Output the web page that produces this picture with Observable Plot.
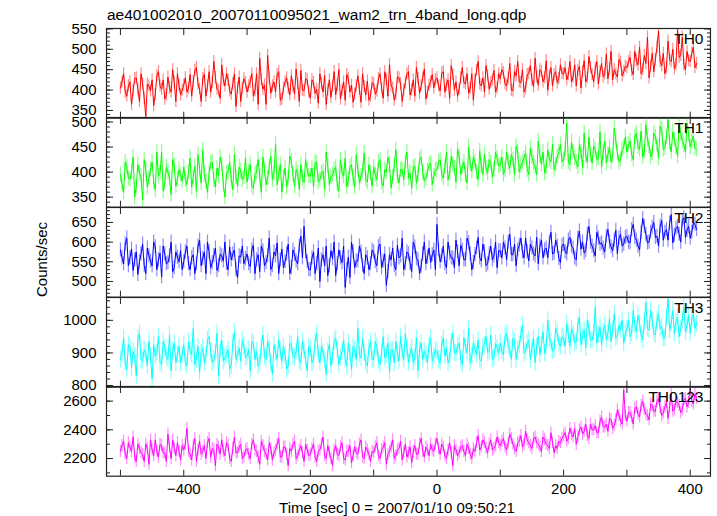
<!DOCTYPE html>
<html><head><meta charset="utf-8">
<script src="https://cdn.jsdelivr.net/npm/d3@7"></script>
<script src="https://cdn.jsdelivr.net/npm/@observablehq/plot@0.6"></script>
<style>
body{margin:0;background:#fff;font-family:"Liberation Sans",Arial,sans-serif;}
#wrap{position:relative;width:717px;height:516px;overflow:hidden;background:#fff;}
#wrap svg{position:absolute;left:0;}
.t{position:absolute;color:#000;font-size:15px;line-height:15px;white-space:nowrap;}
</style></head><body><div id="wrap"></div>
<script>
const title = "ae401002010_20070110095021_wam2_trn_4band_long.qdp";
const xLabel = "Time [sec] 0 = 2007/01/10 09:50:21";
const yLabel = "Counts/sec";
const bands = ["TH0", "TH1", "TH2", "TH3", "TH0123"];
const colors = ["#ff0000", "#00ff00", "#0000ff", "#00ffff", "#ff00ff"];
// samples "a" at t = -500, -495, ...; samples "b" at t = -497.5, -492.5, ...
const tStart = -500, tStep = 5, tOffsetB = 2.5;

const th0a = [
405,440,385,420,398,430,372,415,335,410,425,390,445,402,378,432,395,418,440,388,
412,395,438,420,455,402,428,385,445,418,430,398,462,410,425,390,440,405,372,428,
395,420,385,440,478,402,365,430,410,395,445,378,420,405,435,390,415,448,398,425,
380,418,402,440,395,365,425,410,388,450,400,375,428,412,390,435,370,408,422,385,
415,398,440,380,425,462,405,390,430,372,418,445,400,385,428,410,452,395,420,405,
430,398,445,412,380,438,420,402,455,415,392,440,425,470,410,395,435,418,448,405,
428,442,410,465,398,435,420,450,405,440,425,478,412,445,430,400,455,438,418,462,
440,425,470,432,410,458,445,420,482,438,452,415,465,440,428,495,450,432,468,445,
455,480,438,472,505,450,465,430,490,475,545,460,440,520,470,452,548,485,462,495,
470,505,465];
const th0b = [
420,395,410,365,428,402,440,380,415,398,362,435,410,425,388,405,450,372,412,400,
430,405,385,448,415,372,438,410,395,470,402,380,425,440,398,415,360,432,405,418,
410,440,398,365,425,412,485,392,420,438,375,405,430,388,410,452,372,400,428,395,
425,392,368,415,435,400,382,445,412,378,420,438,395,370,410,402,440,388,375,418,
390,428,405,445,385,410,375,432,415,400,440,388,425,455,392,430,378,412,438,425,
410,442,395,425,460,400,385,430,418,440,405,375,448,415,430,460,402,425,395,440,
450,415,430,400,445,470,418,395,438,460,408,432,450,420,472,435,410,445,428,440,
455,438,420,462,448,405,472,430,455,420,470,445,432,488,452,425,440,475,435,458,
470,448,495,462,440,485,530,458,445,505,470,490,455,475,500,462,480,530,450,472,
490,455];
const th1a = [
395,360,410,385,430,372,398,345,405,388,420,365,392,440,378,400,355,412,385,395,
410,375,428,390,362,405,445,380,398,420,370,392,415,350,400,385,435,372,402,390,
380,415,368,400,392,430,375,410,385,455,395,360,408,388,422,372,398,415,380,405,
392,370,418,385,402,440,375,395,410,362,400,428,385,415,370,405,392,438,380,398,
410,385,425,372,400,415,390,445,378,405,420,388,368,412,395,430,382,402,418,392,
405,425,388,440,398,415,380,432,410,395,450,402,420,385,412,435,398,418,405,428,
415,395,440,408,425,452,400,420,438,395,430,410,462,415,398,445,420,405,432,455,
425,498,415,440,420,455,408,432,470,418,445,428,410,462,435,420,488,438,425,450,
440,462,425,478,445,430,495,452,438,470,428,485,448,505,440,465,432,478,455,498,
450,472,445];
const th1b = [
375,420,388,400,350,415,392,425,370,405,380,440,398,362,410,388,425,372,405,382,
385,400,370,412,435,378,395,360,418,385,408,430,375,398,420,365,390,410,385,428,
400,372,395,425,360,405,388,432,398,375,415,390,370,432,395,405,365,388,425,392,
408,420,380,398,365,412,390,405,375,425,392,370,410,388,435,378,402,385,415,372,
395,420,380,405,430,368,412,392,405,385,440,398,410,378,425,400,388,415,375,405,
420,395,410,385,432,408,445,395,420,378,415,430,400,442,395,408,425,390,440,412,
430,405,418,435,395,440,412,428,405,448,418,395,432,440,410,425,455,415,440,420,
445,420,460,428,410,440,478,420,435,452,425,480,440,418,450,432,462,420,445,470,
455,435,470,450,482,440,465,430,478,455,492,445,470,458,480,450,495,462,440,475,
462,448];
const th2a = [
580,545,610,560,528,575,550,595,520,565,540,588,555,512,570,548,600,535,562,578,
550,590,530,568,545,605,558,520,575,548,585,540,565,600,530,555,580,510,562,545,
570,538,592,555,525,578,548,610,540,565,520,582,550,595,535,568,545,615,640,550,
530,575,545,500,568,590,540,558,515,580,548,485,562,600,535,552,575,520,560,545,
575,540,595,552,490,568,585,530,560,610,545,570,525,588,555,538,600,562,548,580,
645,550,590,535,572,560,605,540,580,555,598,530,568,612,552,575,545,590,565,535,
578,600,555,620,568,540,592,575,610,552,585,565,545,605,580,560,625,572,590,548,
595,570,612,585,555,628,600,578,640,590,565,610,598,575,632,588,605,570,620,595,
615,598,645,605,580,660,620,600,638,612,590,655,625,605,670,618,640,600,662,630,
610,650,632];
const th2b = [
560,595,540,582,555,518,570,540,585,552,600,530,572,590,545,565,525,575,550,530,
575,545,560,520,590,540,575,600,535,565,528,570,552,545,588,570,530,565,590,558,
545,580,520,568,590,540,565,530,575,598,555,535,570,520,580,552,590,560,575,530,
560,520,585,555,540,515,578,600,545,560,590,530,510,575,552,590,540,568,530,580,
550,588,535,570,525,555,540,592,565,530,575,545,600,558,520,570,545,585,568,530,
580,565,545,600,560,535,575,592,555,610,570,548,585,560,595,540,570,555,600,578,
560,585,600,568,595,580,610,560,575,595,570,612,590,560,585,600,570,605,558,592,
575,605,590,560,610,582,572,620,600,578,625,595,585,615,600,578,630,610,590,612,
600,632,612,590,625,640,598,625,650,615,640,605,632,648,598,635,620,655,612,640,
625,645];
const th3a = [
880,945,850,920,905,830,960,875,900,935,820,890,950,865,915,880,845,930,895,870,
925,860,905,975,880,840,915,890,950,870,900,830,940,885,910,860,965,895,875,920,
890,845,930,905,870,955,880,915,835,900,940,875,895,860,925,885,950,870,905,845,
915,880,960,870,900,835,925,890,945,865,905,880,930,850,910,975,885,900,860,935,
880,920,865,950,895,840,910,935,875,900,960,870,915,885,845,930,905,870,945,890,
905,870,945,915,880,960,900,930,865,920,975,890,910,940,875,925,900,955,885,915,
930,895,960,910,945,880,925,985,905,940,915,870,950,925,900,1000,935,910,960,920,
945,990,920,960,935,1010,950,915,975,940,1040,955,925,985,960,935,1020,950,970,930,
975,950,1030,965,990,940,1055,970,1000,955,1020,980,945,1065,990,960,1010,975,1040,985,
960,1020,990];
const th3b = [
900,870,925,855,890,945,880,910,860,890,925,900,870,935,890,955,905,870,920,895,
870,935,895,865,920,900,870,940,905,880,960,910,875,895,850,930,880,915,940,885,
910,935,880,860,920,890,935,870,925,880,905,920,850,930,890,905,875,935,880,920,
870,935,895,920,880,905,860,935,910,885,940,860,900,920,880,895,945,870,915,880,
935,875,900,885,930,910,870,895,950,880,915,900,870,945,910,880,895,925,875,910,
880,925,890,870,935,900,920,880,945,900,870,930,895,880,920,950,905,880,930,900,
905,950,920,880,935,910,955,900,930,880,945,920,895,965,920,945,905,975,930,950,
920,955,975,930,985,925,970,1000,940,960,930,980,965,940,1005,970,945,985,1000,960,
1000,960,985,1015,955,995,975,1030,960,1000,975,945,1010,970,1030,995,950,1000,965,1015,
1005,975];
const th0123a = [
2250,2320,2200,2280,2350,2180,2270,2230,2300,2160,2260,2330,2210,2290,2240,2370,2200,2270,2310,2190,
2260,2410,2230,2290,2180,2320,2250,2200,2340,2270,2150,2280,2330,2220,2290,2180,2350,2240,2300,2210,
2270,2200,2330,2250,2160,2290,2230,2310,2190,2260,2340,2210,2280,2150,2250,2320,2220,2290,2180,2260,
2230,2300,2180,2260,2350,2200,2240,2150,2290,2220,2310,2190,2250,2170,2280,2230,2330,2200,2260,2180,
2240,2310,2200,2280,2160,2250,2330,2220,2270,2190,2300,2240,2170,2290,2230,2340,2210,2260,2300,2250,
2340,2230,2280,2200,2310,2150,2260,2240,2290,2220,2270,2200,2250,2360,2280,2310,2240,2330,2270,2350,
2290,2340,2260,2370,2300,2250,2320,2280,2390,2310,2270,2350,2300,2250,2330,2290,2380,2240,2270,2310,
2360,2320,2410,2350,2300,2400,2370,2440,2340,2400,2430,2380,2490,2420,2390,2470,2430,2540,2460,2680,
2460,2520,2440,2560,2490,2600,2510,2470,2570,2530,2620,2500,2560,2480,2650,2540,2590,2520,2610,2560,
2690,2580,2620];
const th0123b = [
2290,2230,2310,2250,2210,2300,2240,2180,2270,2330,2220,2250,2300,2240,2180,2280,2330,2220,2250,2290,
2300,2250,2190,2340,2260,2230,2290,2310,2210,2260,2300,2230,2250,2310,2200,2270,2240,2280,2200,2260,
2230,2300,2260,2210,2320,2250,2190,2270,2240,2300,2210,2280,2230,2270,2300,2200,2260,2240,2300,2220,
2270,2210,2250,2300,2220,2290,2200,2260,2230,2280,2200,2250,2290,2220,2240,2300,2210,2280,2230,2250,
2280,2220,2260,2310,2230,2280,2200,2260,2320,2240,2210,2280,2250,2230,2300,2250,2280,2220,2260,2300,
2270,2300,2220,2260,2240,2290,2220,2280,2250,2300,2230,2270,2310,2260,2330,2270,2300,2260,2290,2310,
2320,2280,2310,2340,2270,2310,2360,2300,2330,2290,2340,2310,2280,2350,2300,2270,2310,2290,2320,2340,
2380,2340,2370,2410,2350,2420,2390,2360,2440,2400,2380,2460,2420,2440,2480,2410,2470,2500,2440,2500,
2520,2490,2550,2510,2570,2540,2500,2580,2530,2600,2550,2520,2590,2560,2530,2600,2570,2540,2620,2590,
2600,2650];
const seriesA = [th0a, th1a, th2a, th3a, th0123a];
const seriesB = [th0b, th1b, th2b, th3b, th0123b];
const errs = [15, 15, 18, 26, 42];

const xDomain = [-522, 432];
const yDomains = [[331, 551], [330, 509], [460, 688], [795, 1070], [2077, 2702]];
const yMajor = [[350, 400, 450, 500, 550], [350, 400, 450, 500], [500, 550, 600, 650], [800, 900, 1000], [2200, 2400, 2600]];
const yMinorStep = [10, 10, 10, 20, 100];
const xLabelTicks = [-400, -200, 0, 200, 400];
const xTickStep = 100;

const wrap = document.getElementById("wrap");
const frameTop = 27.5, panelH = 89.7;
const ink = "#222";
const FONT = "'Liberation Sans', Arial, sans-serif";
const fmtY = d3.format("d");

seriesA.forEach((valsA, i) => {
  const data = valsA.map((v, k) => ({t: tStart + k * tStep, v}))
    .concat(seriesB[i].map((v, k) => ({t: tStart + tOffsetB + k * tStep, v})))
    .sort((p, q) => p.t - q.t);
  const err = errs[i];
  const [lo, hi] = yDomains[i];
  const minor = d3.range(Math.ceil(lo / yMinorStep[i]) * yMinorStep[i], hi + 1e-9, yMinorStep[i]);
  const xt = d3.range(Math.ceil(xDomain[0] / xTickStep) * xTickStep, xDomain[1], xTickStep);
  const mt = 20, mb = i === 4 ? 45 : 20;
  const marks = [
    Plot.ruleX(data, {x: "t", y1: d => d.v - err, y2: d => d.v + err, stroke: colors[i], strokeOpacity: 0.45, strokeWidth: 1.2, clip: true}),
    Plot.lineY(data, {x: "t", y: "v", stroke: colors[i], strokeWidth: 1, clip: true}),
    Plot.axisY(yMajor[i], {anchor: "left", tickSize: 7, dx: 7, tickFormat: () => "", label: null, stroke: ink}),
    Plot.axisY(minor, {anchor: "left", tickSize: 4, dx: 4, tickFormat: () => "", label: null, stroke: ink}),
    Plot.axisY(yMajor[i], {anchor: "right", tickSize: 7, dx: -7, tickFormat: () => "", label: null, stroke: ink}),
    Plot.axisY(minor, {anchor: "right", tickSize: 4, dx: -4, tickFormat: () => "", label: null, stroke: ink}),
    Plot.axisY(yMajor[i], {anchor: "left", tickSize: 0, tickPadding: 10, tickFormat: fmtY, label: null, fontSize: 15, fill: "#000"}),
    Plot.axisX(xt, {anchor: "bottom", tickSize: 6, dy: -6, tickFormat: () => "", label: null, stroke: ink}),
    Plot.axisX(xt, {anchor: "top", tickSize: 6, dy: 6, tickFormat: () => "", label: null, stroke: ink}),
    Plot.frame({stroke: ink, strokeWidth: 1.2}),
    Plot.text([bands[i]], {frameAnchor: "top-right", text: d => d, dx: -7, dy: 4, fontSize: 15.5, fill: "#000", textAnchor: "end", lineAnchor: "top"})
  ];
  if (i === 4) {
    marks.push(Plot.axisX(xLabelTicks, {anchor: "bottom", tickSize: 0, tickPadding: 7, label: null, fontSize: 15, fill: "#000"}));
  }
  const svg = Plot.plot({
    width: 717,
    height: panelH + mt + mb,
    marginTop: mt, marginBottom: mb, marginLeft: 106, marginRight: 7,
    style: {background: "transparent", overflow: "visible", fontFamily: FONT, fontSize: "15px", color: "#000"},
    x: {domain: xDomain},
    y: {domain: yDomains[i]},
    marks
  });
  svg.style.top = (frameTop + i * panelH - mt) + "px";
  wrap.appendChild(svg);
});

function addText(txt, css) {
  const d = document.createElement("div");
  d.className = "t";
  d.textContent = txt;
  Object.assign(d.style, css);
  wrap.appendChild(d);
  return d;
}
addText(title, {left: "107px", top: "7px", fontSize: "15.5px"});
addText(xLabel, {left: "197px", width: "400px", textAlign: "center", top: "500px"});
addText(yLabel, {left: "-59px", width: "200px", textAlign: "center", top: "252px", transform: "rotate(-90deg)", transformOrigin: "50% 50%"});
</script></body></html>
